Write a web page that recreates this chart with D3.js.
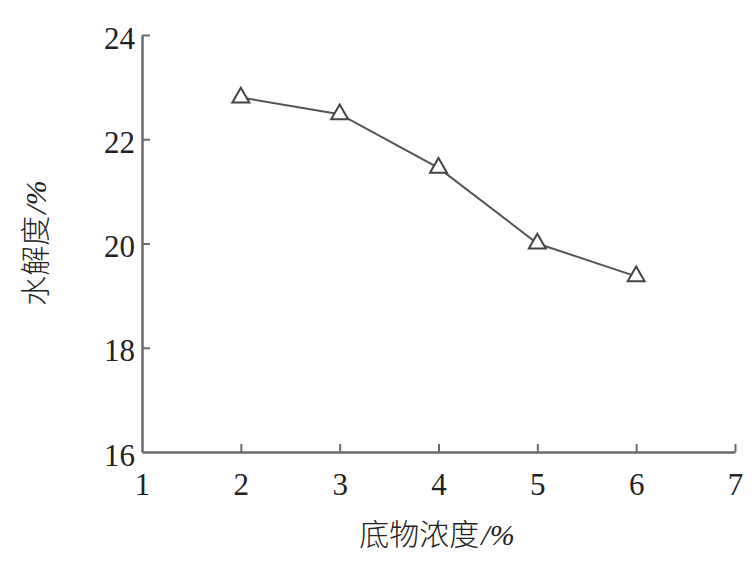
<!DOCTYPE html>
<html><head><meta charset="utf-8">
<script src="https://cdn.jsdelivr.net/npm/d3@7"></script>
<style>body{margin:0;background:#fff}</style>
</head><body>
<script>
const concentrations = [2, 3, 4, 5, 6];
const hydrolysis = [22.8, 22.48, 21.45, 20.0, 19.37];
const xTicks = [1, 2, 3, 4, 5, 6, 7];
const yTicks = [16, 18, 20, 22, 24];
const xTitle = ["底物浓度", "/%"];
const yTitle = ["水解度", "/%"];

const W = 756, H = 566;
const m = {left: 142, right: 21, top: 35, bottom: 114};
const svg = d3.select("body").append("svg").attr("width", W).attr("height", H);
const x = d3.scaleLinear().domain([1, 7]).range([m.left, W - m.right]);
const y = d3.scaleLinear().domain([16, 24]).range([H - m.bottom, m.top]);

const axisColor = "#6a6a6a";
const numFont = "'Liberation Serif', 'Times New Roman', serif";

// axes
const xa = svg.append("g").attr("transform", `translate(0,${y(16)})`)
  .call(d3.axisBottom(x).tickValues(xTicks).tickSizeInner(-8).tickSizeOuter(0).tickPadding(20).tickFormat(d3.format("d")));
const ya = svg.append("g").attr("transform", `translate(${x(1)},0)`)
  .call(d3.axisLeft(y).tickValues(yTicks).tickSizeInner(-8).tickSizeOuter(0).tickPadding(7).tickFormat(d3.format("d")));
[xa, ya].forEach(a => {
  a.select(".domain").attr("stroke", axisColor).attr("stroke-width", 2.5);
  a.selectAll(".tick line").attr("stroke", axisColor).attr("stroke-width", 2);
  a.selectAll(".tick text").attr("fill", "#222").style("font-family", numFont).style("font-size", "31px");
});
xa.select(".tick line").remove();
ya.selectAll(".tick").filter(d => d === 16).select("line").remove();
ya.selectAll(".tick text").attr("dy", "0.42em");
xa.selectAll(".tick text").attr("dy", "0.75em");

// line
const pts = concentrations.map((c, i) => [c, hydrolysis[i]]);
svg.append("path").datum(pts)
  .attr("fill", "none").attr("stroke", "#555").attr("stroke-width", 2)
  .attr("d", d3.line().x(d => x(d[0])).y(d => y(d[1])));

// markers
svg.selectAll(".mk").data(pts).enter().append("path")
  .attr("class", "mk")
  .attr("transform", d => `translate(${x(d[0])},${y(d[1])})`)
  .attr("d", d3.symbol(d3.symbolTriangle, 125))
  .attr("fill", "#fff").attr("stroke", "#444").attr("stroke-width", 2);

// titles
const cjk = "'Noto Sans CJK SC', sans-serif";
function title(sel, parts) {
  sel.append("tspan").style("font-family", cjk).style("font-weight", 300).text(parts[0]);
  sel.append("tspan").style("font-family", numFont).style("font-style", "italic").attr("dx", 2).text(parts[1]);
}
const xt = svg.append("text").attr("x", 437).attr("y", 545).attr("text-anchor", "middle")
  .style("font-size", "30px").attr("fill", "#222");
title(xt, xTitle);
const yt = svg.append("text").attr("transform", "translate(46,243) rotate(-90)").attr("text-anchor", "middle")
  .style("font-size", "30px").attr("fill", "#222");
title(yt, yTitle);
</script>
</body></html>
